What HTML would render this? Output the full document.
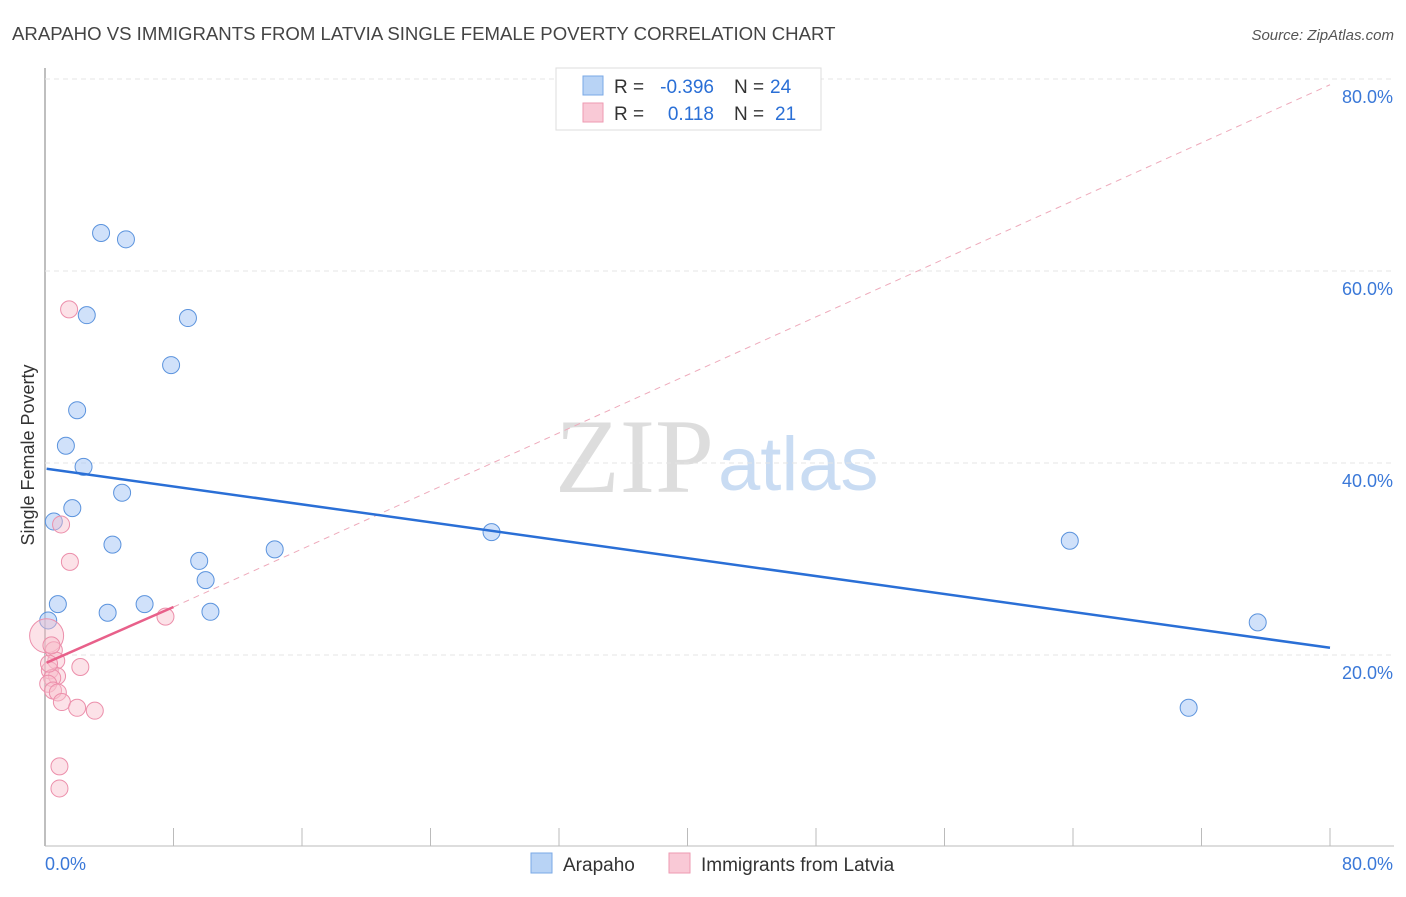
<!DOCTYPE html>
<html><head><meta charset="utf-8"><style>
body{margin:0;background:#fff;font-family:"Liberation Sans",sans-serif}
</style></head><body>
<svg id="chart" width="1406" height="892">
<text x="12" y="40" font-size="18.6" fill="#444">ARAPAHO VS IMMIGRANTS FROM LATVIA SINGLE FEMALE POVERTY CORRELATION CHART</text>
<text x="1394" y="40" font-size="15" fill="#555" font-style="italic" text-anchor="end">Source: ZipAtlas.com</text>
<text transform="translate(34,455) rotate(-90)" font-size="18" fill="#333" text-anchor="middle">Single Female Poverty</text>
<text x="555" y="492" font-size="106" fill="#ddd" font-family="Liberation Serif,serif">ZIP</text>
<text x="718" y="490" font-size="76" fill="#c9dcf3">atlas</text>
<g id="grid"></g><g id="marks"></g>
<g>
<rect x="556" y="68" width="265" height="62" fill="#fff" stroke="#ddd"/>
<rect x="583" y="76" width="20" height="19" fill="#b8d3f5" stroke="#7aa8e6"/>
<rect x="583" y="103" width="20" height="19" fill="#f9c9d6" stroke="#ee9ab2"/>
<text x="614" y="93" font-size="19" fill="#333">R =</text>
<text x="714" y="93" font-size="19" fill="#2a6fd6" text-anchor="end">-0.396</text>
<text x="734" y="93" font-size="19" fill="#333">N =</text>
<text x="770" y="93" font-size="19" fill="#2a6fd6">24</text>
<text x="614" y="120" font-size="19" fill="#333">R =</text>
<text x="714" y="120" font-size="19" fill="#2a6fd6" text-anchor="end">0.118</text>
<text x="734" y="120" font-size="19" fill="#333">N =</text>
<text x="775" y="120" font-size="19" fill="#2a6fd6">21</text>
</g>
<g>
<rect x="531" y="853" width="21" height="20" fill="#b8d3f5" stroke="#7aa8e6"/>
<text x="563" y="871" font-size="19" fill="#333">Arapaho</text>
<rect x="669" y="853" width="21" height="20" fill="#f9c9d6" stroke="#ee9ab2"/>
<text x="701" y="871" font-size="19" fill="#333">Immigrants from Latvia</text>
</g>
<text x="45" y="870" font-size="18" fill="#3a78d8">0.0%</text>
<text x="1393" y="870" font-size="18" fill="#3a78d8" text-anchor="end">80.0%</text>
</svg>
<script>
const yTicks=[20,40,60,80];
const blueX=[3.49,5.04,2.6,8.9,7.85,2.0,1.3,2.4,4.8,0.55,1.7,4.2,14.3,27.8,63.8,9.6,10.0,0.8,6.2,3.9,10.3,0.2,75.5,71.2];
const blueY=[63.96,63.3,55.4,55.1,50.2,45.5,41.8,39.6,36.9,33.9,35.3,31.5,31.0,32.8,31.9,29.8,27.8,25.3,25.3,24.4,24.5,23.6,23.4,14.5];
const pinkX=[1.5,1.0,1.55,7.5,0.1,0.55,0.7,2.2,0.3,0.75,0.45,0.2,0.5,0.8,1.05,2.0,3.1,0.9,0.9,0.25,0.4];
const pinkY=[56.0,33.6,29.7,24.0,22.0,20.5,19.4,18.75,18.4,17.8,17.6,17.0,16.3,16.1,15.1,14.5,14.2,8.4,6.1,19.1,21.0];
const blueTrend=[39.4,20.75];
const pinkTrend=[19.2,25.0];
const ns="http://www.w3.org/2000/svg";
const sx=v=>45+v*1285/80, sy=v=>847-v*9.6;
function mk(t,a,p){const e=document.createElementNS(ns,t);for(const k in a)e.setAttribute(k,a[k]);p.appendChild(e);return e;}
const g=document.getElementById('grid'), m=document.getElementById('marks');
let ax=mk('line',{x1:45,y1:68,x2:45,y2:846,stroke:'#aaa','stroke-width':1.5},g);


let bx=mk('line',{x1:45,y1:846,x2:1394,y2:846,stroke:'#bbb'},g);


for(let k=1;k<=10;k++){const t=mk('line',{x1:45+128.5*k,y1:828,x2:45+128.5*k,y2:846,stroke:'#bbb'},g);

}
yTicks.forEach(v=>{const l=mk('line',{x1:45,x2:1394,y1:sy(v),y2:sy(v),stroke:'#e4e4e4','stroke-dasharray':'5,4'},g);


const t=mk('text',{x:1393,y:sy(v)+24,'font-size':18,fill:'#3a78d8','text-anchor':'end'},g);t.textContent=v.toFixed(1)+'%';

});
let d=mk('line',{x1:sx(8),y1:sy(pinkTrend[1]),x2:sx(80),y2:sy(79.4),stroke:'#eeaabb','stroke-dasharray':'6,5'},m);


blueX.forEach((x,i)=>{const c=mk('circle',{cx:sx(x),cy:sy(blueY[i]),r:8.5,fill:'rgba(170,200,245,0.55)',stroke:'#5b93dd','stroke-width':1},m);

});
pinkX.forEach((x,i)=>{const c=mk('circle',{cx:sx(x),cy:sy(pinkY[i]),r:i==4?17:8.5,fill:'rgba(248,190,205,0.45)',stroke:'#ec8fab','stroke-width':1},m);

});
let bl=mk('line',{x1:sx(0.1),y1:sy(blueTrend[0]),x2:sx(80),y2:sy(blueTrend[1]),stroke:'#2a6fd6','stroke-width':2.5},m);


let pl=mk('line',{x1:sx(0.1),y1:sy(pinkTrend[0]),x2:sx(8),y2:sy(pinkTrend[1]),stroke:'#e8608a','stroke-width':2.5},m);


</script>
</body></html>
